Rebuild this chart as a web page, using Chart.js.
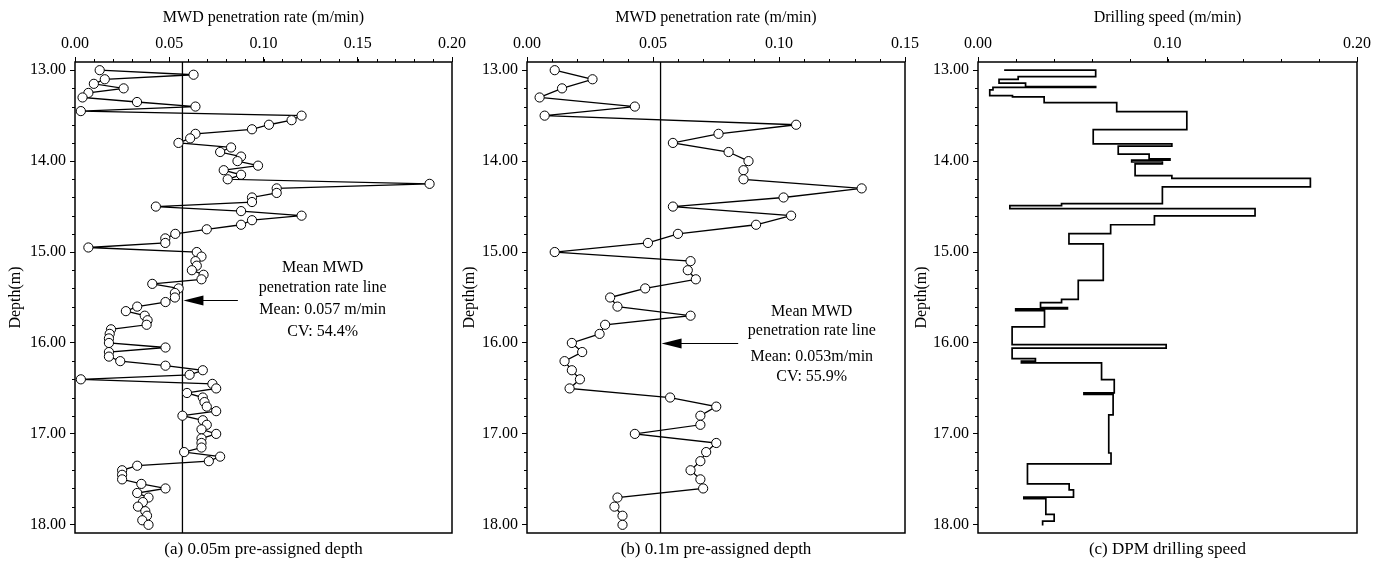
<!DOCTYPE html>
<html>
<head>
<meta charset="utf-8">
<script src="https://cdn.jsdelivr.net/npm/chart.js@4/dist/chart.umd.min.js"></script>
<style>
  html, body { margin: 0; padding: 0; background: #fff; }
  #wrap { position: relative; width: 1388px; height: 563px; overflow: hidden; }
  #wrap canvas { position: absolute; top: 0; }
</style>
</head>
<body>
<div id="wrap">
  <canvas id="cA"></canvas>
  <canvas id="cB"></canvas>
  <canvas id="cC"></canvas>
</div>
<script>
// ---------- data ----------
// (a) MWD penetration rate, 0.05 m pre-assigned depth
const depthA = [
  13.00, 13.05, 13.10, 13.15, 13.20, 13.25, 13.30, 13.35, 13.40, 13.45,
  13.50, 13.55, 13.60, 13.65, 13.70, 13.75, 13.80, 13.85, 13.90, 13.95,
  14.00, 14.05, 14.10, 14.15, 14.20, 14.25, 14.30, 14.35, 14.40, 14.45,
  14.50, 14.55, 14.60, 14.65, 14.70, 14.75, 14.80, 14.85, 14.90, 14.95,
  15.00, 15.05, 15.10, 15.15, 15.20, 15.25, 15.30, 15.35, 15.40, 15.45,
  15.50, 15.55, 15.60, 15.65, 15.70, 15.75, 15.80, 15.85, 15.90, 15.95,
  16.00, 16.05, 16.10, 16.15, 16.20, 16.25, 16.30, 16.35, 16.40, 16.45,
  16.50, 16.55, 16.60, 16.65, 16.70, 16.75, 16.80, 16.85, 16.90, 16.95,
  17.00, 17.05, 17.10, 17.15, 17.20, 17.25, 17.30, 17.35, 17.40, 17.45,
  17.50, 17.55, 17.60, 17.65, 17.70, 17.75, 17.80, 17.85, 17.90, 17.95,
  18.00
];
const rateA = [
  0.0131, 0.0629, 0.0158, 0.0100, 0.0258, 0.0071, 0.0040, 0.0329, 0.0639, 0.0031,
  0.1202, 0.1149, 0.1029, 0.0939, 0.0639, 0.0611, 0.0549, 0.0828, 0.0770, 0.0881,
  0.0862, 0.0971, 0.0789, 0.0881, 0.0810, 0.1881, 0.1070, 0.1070, 0.0939, 0.0939,
  0.0429, 0.0881, 0.1202, 0.0939, 0.0881, 0.0699, 0.0532, 0.0479, 0.0479, 0.0071,
  0.0646, 0.0671, 0.0639, 0.0646, 0.0620, 0.0682, 0.0671, 0.0410, 0.0550, 0.0530,
  0.0530, 0.0480, 0.0330, 0.0270, 0.0370, 0.0385, 0.0380, 0.0191, 0.0184, 0.0180,
  0.0180, 0.0480, 0.0180, 0.0180, 0.0240, 0.0480, 0.0678, 0.0608, 0.0031, 0.0729,
  0.0749, 0.0594, 0.0678, 0.0687, 0.0699, 0.0749, 0.0570, 0.0678, 0.0699, 0.0671,
  0.0749, 0.0671, 0.0671, 0.0671, 0.0579, 0.0770, 0.0710, 0.0330, 0.0250, 0.0250,
  0.0250, 0.0352, 0.0480, 0.0330, 0.0390, 0.0360, 0.0334, 0.0373, 0.0382, 0.0357,
  0.0390
];
const meanA = 0.057;
const cvA = 54.4;

// (b) MWD penetration rate, 0.1 m pre-assigned depth
const depthB = [
  13.0, 13.1, 13.2, 13.3, 13.4, 13.5, 13.6, 13.7, 13.8, 13.9,
  14.0, 14.1, 14.2, 14.3, 14.4, 14.5, 14.6, 14.7, 14.8, 14.9,
  15.0, 15.1, 15.2, 15.3, 15.4, 15.5, 15.6, 15.7, 15.8, 15.9,
  16.0, 16.1, 16.2, 16.3, 16.4, 16.5, 16.6, 16.7, 16.8, 16.9,
  17.0, 17.1, 17.2, 17.3, 17.4, 17.5, 17.6, 17.7, 17.8, 17.9,
  18.0
];
const rateB = [
  0.0110, 0.0260, 0.0139, 0.0050, 0.0428, 0.0070, 0.1068, 0.0760, 0.0579, 0.0800,
  0.0879, 0.0859, 0.0859, 0.1328, 0.1018, 0.0579, 0.1048, 0.0909, 0.0599, 0.0480,
  0.0110, 0.0649, 0.0638, 0.0670, 0.0469, 0.0330, 0.0359, 0.0649, 0.0310, 0.0288,
  0.0178, 0.0219, 0.0149, 0.0178, 0.0210, 0.0169, 0.0568, 0.0751, 0.0688, 0.0688,
  0.0428, 0.0751, 0.0711, 0.0688, 0.0649, 0.0688, 0.0699, 0.0359, 0.0347, 0.0379,
  0.0379
];
const meanB = 0.053;
const cvB = 55.9;

// (c) DPM drilling speed: constant speed between successive depth bounds
const dpmBounds = [
  13.000, 13.000, 13.070, 13.100, 13.143, 13.180, 13.190, 13.217, 13.280, 13.293,
  13.356, 13.455, 13.653, 13.810, 13.836, 13.924, 13.976, 13.990, 14.010, 14.030,
  14.159, 14.190, 14.284, 14.467, 14.489, 14.522, 14.603, 14.700, 14.797, 14.911,
  15.311, 15.520, 15.556, 15.610, 15.625, 15.645, 15.822, 16.018, 16.056, 16.173,
  16.200, 16.220, 16.404, 16.550, 16.565, 16.790, 17.210, 17.330, 17.550, 17.615,
  17.695, 17.713, 17.886, 17.960, 18.007
];
const dpmSpeed = [
  0.0138, 0.0621, 0.0212, 0.0111, 0.0251, 0.0621, 0.0079, 0.0062, 0.0182, 0.0349,
  0.0732, 0.1102, 0.0608, 0.1023, 0.0740, 0.0903, 0.1013, 0.0811, 0.0973, 0.0829,
  0.1023, 0.1754, 0.0973, 0.0441, 0.0168, 0.1462, 0.0931, 0.0700, 0.0480, 0.0661,
  0.0529, 0.0441, 0.0330, 0.0472, 0.0199, 0.0351, 0.0180, 0.0993, 0.0180, 0.0303,
  0.0229, 0.0652, 0.0719, 0.0559, 0.0713, 0.0690, 0.0702, 0.0261, 0.0481, 0.0504,
  0.0242, 0.0358, 0.0402, 0.0341
];

// axis ticks
const depthTicks = [13, 14, 15, 16, 17, 18];
const rateTicksA = [0, 0.05, 0.10, 0.15, 0.20];
const rateTicksB = [0, 0.05, 0.10, 0.15];
const speedTicksC = [0, 0.10, 0.20];

// ---------- drawing ----------
const SERIF = "'Liberation Serif', 'Times New Roman', serif";
Chart.defaults.color = '#000';
Chart.defaults.font.family = SERIF;
Chart.defaults.font.size = 16;

const PLOT_TOP = 62, PLOT_BOTTOM = 533, H = 563;
const DEPTH_MIN = 12.91, DEPTH_MAX = 18.09;

// frame, minor ticks, annotation text with arrow, caption
const decor = {
  id: 'decor',
  afterDraw(chart, args, o) {
    const ctx = chart.ctx;
    const a = chart.chartArea;
    const xs = chart.scales.x, ys = chart.scales.y;
    ctx.save();
    ctx.strokeStyle = '#000';
    ctx.lineWidth = 1.5;
    ctx.strokeRect(a.left, a.top, a.right - a.left, a.bottom - a.top);
    // minor ticks
    ctx.lineWidth = 1;
    ctx.beginPath();
    for (let v = o.xMinor; v < xs.max - 1e-9; v += o.xMinor) {
      const px = Math.round(xs.getPixelForValue(v)) + 0.5;
      ctx.moveTo(px, a.top); ctx.lineTo(px, a.top - 3);
    }
    for (let v = 13; v < DEPTH_MAX; v += 0.2) {
      if (Math.abs(v - Math.round(v)) < 1e-6) continue;
      const py = Math.round(ys.getPixelForValue(v)) + 0.5;
      ctx.moveTo(a.left, py); ctx.lineTo(a.left - 3, py);
    }
    ctx.stroke();
    // note
    if (o.note) {
      const n = o.note;
      ctx.fillStyle = '#000';
      ctx.font = '16px ' + SERIF;
      ctx.textAlign = 'center';
      ctx.textBaseline = 'middle';
      n.lines.forEach((t, i) => {
        ctx.fillText(t, xs.getPixelForValue(n.x), ys.getPixelForValue(n.ys[i]));
      });
      const ay = Math.round(ys.getPixelForValue(n.arrowY)) + 0.5;
      const x0 = xs.getPixelForValue(n.arrowFrom);
      const x1 = xs.getPixelForValue(n.arrowTo);
      ctx.lineWidth = 1.2;
      ctx.beginPath();
      ctx.moveTo(x0, ay); ctx.lineTo(x1 + 18, ay);
      ctx.stroke();
      ctx.beginPath();
      ctx.moveTo(x1 + 1, ay);
      ctx.lineTo(x1 + 21, ay - 5);
      ctx.lineTo(x1 + 21, ay + 5);
      ctx.closePath();
      ctx.fill();
    }
    // caption
    ctx.fillStyle = '#000';
    ctx.font = '17px ' + SERIF;
    ctx.textAlign = 'center';
    ctx.textBaseline = 'middle';
    ctx.fillText(o.caption, (a.left + a.right) / 2, 550);
    ctx.restore();
  }
};

function makeChart(id, left, width, plotLeft, plotRight, cfg) {
  const cv = document.getElementById(id);
  cv.style.left = left + 'px';
  cv.width = width; cv.height = H;
  cv.style.width = width + 'px'; cv.style.height = H + 'px';
  return new Chart(cv, {
    type: 'scatter',
    data: { datasets: cfg.datasets },
    plugins: [decor],
    options: {
      responsive: false,
      animation: false,
      events: [],
      layout: { padding: { left: 0, top: 0, right: (left + width) - plotRight, bottom: H - PLOT_BOTTOM } },
      plugins: {
        legend: { display: false },
        tooltip: { enabled: false },
        decor: { xMinor: cfg.xMinor, note: cfg.note, caption: cfg.caption }
      },
      scales: {
        x: {
          type: 'linear', position: 'top', min: 0, max: cfg.xMax,
          afterFit: s => { s.height = PLOT_TOP; s.paddingLeft = 0; s.paddingRight = 0; },
          afterBuildTicks: s => { s.ticks = cfg.xTicks.map(v => ({ value: v })); },
          ticks: { padding: 4, font: { size: 16 }, callback: v => Number(v).toFixed(2) },
          grid: { drawOnChartArea: false, drawTicks: true, tickLength: 5, color: '#000', tickWidth: 1 },
          border: { display: false },
          title: { display: true, text: cfg.xTitle, font: { size: 16 }, padding: { top: 8, bottom: 0 } }
        },
        y: {
          type: 'linear', position: 'left', reverse: true, min: DEPTH_MIN, max: DEPTH_MAX,
          afterFit: s => { s.width = plotLeft - left; s.paddingTop = 0; s.paddingBottom = 0; },
          afterBuildTicks: s => { s.ticks = depthTicks.map(v => ({ value: v })); },
          ticks: { padding: 4, font: { size: 16 }, callback: v => Number(v).toFixed(2) },
          grid: { drawOnChartArea: false, drawTicks: true, tickLength: 5, color: '#000', tickWidth: 1 },
          border: { display: false },
          title: { display: true, text: 'Depth(m)', font: { size: 16 }, padding: { top: cfg.yTitlePad, bottom: 0 } }
        }
      }
    }
  });
}

function pointSeries(depths, rates) {
  return {
    data: depths.map((d, i) => ({ x: rates[i], y: d })),
    showLine: true,
    borderColor: '#000',
    borderWidth: 1.3,
    pointRadius: 4.6,
    pointBorderWidth: 1,
    pointBorderColor: '#000',
    pointBackgroundColor: '#fff'
  };
}
function meanLine(m) {
  return {
    data: [{ x: m, y: DEPTH_MIN }, { x: m, y: DEPTH_MAX }],
    showLine: true,
    borderColor: '#000',
    borderWidth: 1.3,
    pointRadius: 0
  };
}
function stepSeries(bounds, speeds) {
  const pts = [];
  speeds.forEach((s, i) => {
    pts.push({ x: s, y: bounds[i] });
    pts.push({ x: s, y: bounds[i + 1] });
  });
  return {
    data: pts,
    showLine: true,
    borderColor: '#000',
    borderWidth: 1.7,
    pointRadius: 0
  };
}

makeChart('cA', 0, 480, 75, 452, {
  datasets: [pointSeries(depthA, rateA), meanLine(meanA)],
  xMax: 0.20, xTicks: rateTicksA, xMinor: 0.01,
  xTitle: 'MWD penetration rate (m/min)', yTitlePad: 6,
  caption: '(a) 0.05m pre-assigned depth',
  note: {
    lines: ['Mean MWD', 'penetration rate line', 'Mean: ' + meanA.toFixed(3) + ' m/min', 'CV: ' + cvA.toFixed(1) + '%'],
    x: 0.1314, ys: [15.17, 15.39, 15.64, 15.88],
    arrowY: 15.53, arrowFrom: 0.0864, arrowTo: meanA
  }
});

makeChart('cB', 458, 470, 527, 905, {
  datasets: [pointSeries(depthB, rateB), meanLine(meanB)],
  xMax: 0.15, xTicks: rateTicksB, xMinor: 0.01,
  xTitle: 'MWD penetration rate (m/min)', yTitlePad: 2,
  caption: '(b) 0.1m pre-assigned depth',
  note: {
    lines: ['Mean MWD', 'penetration rate line', 'Mean: ' + meanB.toFixed(3) + 'm/min', 'CV: ' + cvB.toFixed(1) + '%'],
    x: 0.1130, ys: [15.66, 15.87, 16.155, 16.375],
    arrowY: 16.0, arrowFrom: 0.0838, arrowTo: meanB
  }
});

makeChart('cC', 910, 478, 978, 1357, {
  datasets: [stepSeries(dpmBounds, dpmSpeed)],
  xMax: 0.20, xTicks: speedTicksC, xMinor: 0.02,
  xTitle: 'Drilling speed (m/min)', yTitlePad: 2,
  caption: '(c) DPM drilling speed',
  note: null
});
</script>
</body>
</html>
